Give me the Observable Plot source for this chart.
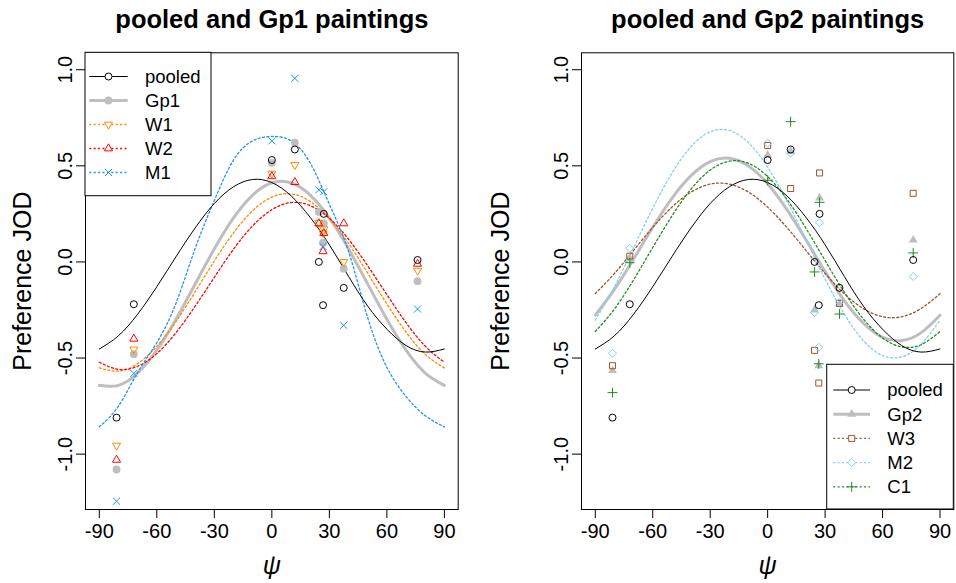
<!DOCTYPE html>
<html><head><meta charset="utf-8">
<script src="https://cdn.jsdelivr.net/npm/d3@7"></script>
<script src="https://cdn.jsdelivr.net/npm/@observablehq/plot@0.6"></script>
<style>
html,body{margin:0;padding:0;background:#fff;}
#wrap{display:flex;width:956px;height:583px;overflow:hidden;}
svg{display:block;}
</style></head><body><div id="wrap"></div>
<script>
// ---- data ----
const psi = [-81, -72, 0, 12, 24.5, 26.7, 27.1, 37.5, 76];
const pooled = [-0.81, -0.22, 0.53, 0.585, 0.0, -0.225, 0.25, -0.135, 0.01];
const gp1 = [-1.08, -0.48, 0.515, 0.62, 0.26, 0.10, 0.20, -0.035, -0.10];
const w1 = [-0.955, -0.455, 0.46, 0.505, 0.205, 0.15, 0.17, 0.0, -0.045];
const w2 = [-1.03, -0.40, 0.445, 0.415, 0.20, 0.055, 0.15, 0.20, -0.01];
const m1 = [-1.245, -0.58, 0.63, 0.955, 0.375, 0.08, 0.365, -0.33, -0.245];
const gp2 = [-0.565, 0.02, 0.555, 0.575, -0.25, -0.54, 0.333, -0.22, 0.114];
const w3 = [-0.54, 0.03, 0.606, 0.382, -0.46, -0.63, 0.463, -0.216, 0.357];
const m2 = [-0.475, 0.071, 0.618, 0.566, -0.263, -0.444, 0.204, -0.21, -0.076];
const c1 = [-0.68, -0.004, 0.425, 0.73, -0.052, -0.53, 0.31, -0.271, 0.047];

// fitted curves, read at every 10 degrees
const curveX = [-90,-80,-70,-60,-50,-40,-30,-20,-10,0,10,20,30,40,50,60,70,80,90];
const pooledFit = [-0.453,-0.384,-0.272,-0.129,0.027,0.177,0.304,0.391,0.429,0.413,0.344,0.232,0.089,-0.075,-0.23,-0.35,-0.435,-0.469,-0.453];
const gp1Fit = [-0.642,-0.642,-0.578,-0.459,-0.298,-0.115,0.068,0.229,0.348,0.412,0.412,0.348,0.229,0.068,-0.115,-0.298,-0.459,-0.578,-0.642];
const w1Fit = [-0.551,-0.568,-0.529,-0.439,-0.310,-0.155,0.005,0.151,0.267,0.337,0.354,0.315,0.225,0.096,-0.059,-0.219,-0.365,-0.481,-0.551];
const w2Fit = [-0.522,-0.559,-0.543,-0.477,-0.368,-0.230,-0.080,0.066,0.188,0.272,0.309,0.293,0.227,0.118,-0.020,-0.170,-0.316,-0.438,-0.522];
const m1Fit = [-0.858,-0.75,-0.575,-0.42,-0.215,0.07,0.32,0.53,0.63,0.653,0.63,0.515,0.30,0.055,-0.29,-0.548,-0.70,-0.80,-0.858];
const gp2Fit = [-0.277,-0.143,0.015,0.180,0.331,0.449,0.522,0.539,0.499,0.407,0.273,0.115,-0.050,-0.201,-0.319,-0.392,-0.409,-0.369,-0.277];
const w3Fit = [-0.165,-0.060,0.060,0.180,0.285,0.363,0.405,0.405,0.363,0.285,0.180,0.060,-0.060,-0.165,-0.243,-0.285,-0.285,-0.243,-0.165];
const m2Fit = [-0.303,-0.128,0.074,0.279,0.461,0.600,0.677,0.684,0.620,0.493,0.318,0.116,-0.089,-0.271,-0.410,-0.487,-0.494,-0.430,-0.303];
const c1Fit = [-0.362,-0.245,-0.093,0.075,0.239,0.379,0.478,0.524,0.513,0.444,0.327,0.175,0.007,-0.157,-0.297,-0.396,-0.442,-0.431,-0.362];

const xTicks = [-90,-60,-30,0,30,60,90];
const yTicks = [-1,-0.5,0,0.5,1];
const titles = ["pooled and Gp1 paintings", "pooled and Gp2 paintings"];
const yLabel = "Preference JOD";
const xLabel = "\u03C8";

// ---- styles ----
const FONT = "'Liberation Sans', Arial, Helvetica, sans-serif";
const GRAY = "#bebebe";
const sqrt3 = Math.sqrt(3);
const triangleDown = {draw(ctx, size){ const y = Math.sqrt(size/(sqrt3*3)); ctx.moveTo(0, 2*y); ctx.lineTo(-sqrt3*y, -y); ctx.lineTo(sqrt3*y, -y); ctx.closePath(); }};
const SYM = {
  circle: {type: d3.symbolCircle, r: 3.5, filled:false},
  dot: {type: d3.symbolCircle, r: 3.9, filled:true},
  tri: {type: d3.symbolTriangle, r: 3.0, filled:false},
  triDown: {type: triangleDown, r: 3.0, filled:false},
  triFill: {type: d3.symbolTriangle, r: 3.3, filled:true},
  times: {type: d3.symbolTimes, r: 3.3, filled:false},
  square: {type: d3.symbolSquare, r: 3.4, filled:false},
  diamond: {type: d3.symbolDiamond2, r: 3.6, filled:false},
  plus: {type: d3.symbolPlus, r: 3.3, filled:false}
};

function series(name, vals, fit, color, sym, lineStyle){ return {name, vals, fit, color, sym, lineStyle}; }
const LINE = {
  solid: {strokeWidth: 1},
  thick: {strokeWidth: 3},
  dotted: {strokeWidth: 1.3, strokeDasharray: "2,2.4"}
};

const panels = [
  {
    title: titles[0], ml: 85, mr: 20.3,
    series: [
      series("pooled", pooled, pooledFit, "#000000", "circle", "solid"),
      series("Gp1", gp1, gp1Fit, GRAY, "dot", "thick"),
      series("W1", w1, w1Fit, "#ff8c00", "triDown", "dotted"),
      series("W2", w2, w2Fit, "#ff0000", "tri", "dotted"),
      series("M1", m1, m1Fit, "#1e90ff", "times", "dotted")
    ],
    legend: {x0: 85, y0: 52.3, x1: 211, y1: 195.7, rowY: 76.5, rowStep: 24, lineX0: 89.3, lineX1: 127.7, symX: 108.5, textX: 145}
  },
  {
    title: titles[1], ml: 103, mr: 2.7,
    series: [
      series("pooled", pooled, pooledFit, "#000000", "circle", "solid"),
      series("Gp2", gp2, gp2Fit, GRAY, "triFill", "thick"),
      series("W3", w3, w3Fit, "#a0522d", "square", "dotted"),
      series("M2", m2, m2Fit, "#87ceeb", "diamond", "dotted"),
      series("C1", c1, c1Fit, "#228b22", "plus", "dotted")
    ],
    legend: {x0: 348.7, y0: 364.3, x1: 475.3, y1: 509, rowY: 390, rowStep: 24.2, lineX0: 355.3, lineX1: 392, symX: 373.7, textX: 409.3}
  }
];

function makePanel(p){
  const W = 478, H = 583, mt = 52.3, mb = 74;
  const marks = [];
  const order = [1,2,3,4,0];
  for (const k of order){
    const s = p.series[k];
    const pts = curveX.map((x,i)=>({x, y: s.fit[i]}));
    marks.push(Plot.line(pts, {x:"x", y:"y", curve:"natural", stroke: s.color, ...LINE[s.lineStyle]}));
  }
  for (const k of order){
    const s = p.series[k];
    const sy = SYM[s.sym];
    const pts = psi.map((x,i)=>({x, y: s.vals[i]}));
    marks.push(Plot.dot(pts, {x:"x", y:"y", symbol: sy.type, r: sy.r,
      fill: sy.filled ? s.color : "none", stroke: sy.filled ? "none" : s.color, strokeWidth: 1}));
  }
  marks.push(Plot.frame({stroke:"#000", strokeWidth:1}));
  marks.push(Plot.axisX(xTicks, {tickSize: 9, tickPadding: 5, fontSize: 20, label: null, tickFormat: d => String(d), stroke:"#000", fill:"#000"}));
  marks.push(Plot.axisY(yTicks, {tickSize: 9, label: null, tickFormat: () => "", stroke:"#000"}));
  marks.push(Plot.text(yTicks, {y: d=>d, text: d=>d.toFixed(1), frameAnchor:"left", dx:-14, rotate:-90, lineAnchor:"bottom", textAnchor:"middle", fontSize:20, fill:"#000"}));
  marks.push(Plot.text([yLabel], {text: d=>d, frameAnchor:"left", dx: 22 - p.ml, rotate:-90, lineAnchor:"middle", textAnchor:"middle", fontSize:25, fill:"#000"}));
  marks.push(Plot.text([xLabel], {text: d=>d, frameAnchor:"bottom", dy: 56, lineAnchor:"middle", fontSize:25, fontStyle:"italic", fill:"#000"}));
  marks.push(Plot.text([p.title], {text: d=>d, frameAnchor:"top", dy: -33, lineAnchor:"middle", fontSize:25.5, fontWeight:"bold", fill:"#000"}));

  const svg = Plot.plot({
    width: W, height: H, marginLeft: p.ml, marginRight: p.mr, marginTop: mt, marginBottom: mb,
    x: {domain: [-97.2, 97.2], label: null}, y: {domain: [-1.288, 1.088], label: null},
    style: {fontFamily: FONT, background: "#fff", color: "#000", overflow: "visible"},
    marks
  });

  const L = p.legend;
  const g = d3.select(svg).append("g").attr("font-family", FONT).attr("font-size", 18.5).attr("text-anchor", "start");
  g.append("rect").attr("x", L.x0).attr("y", L.y0).attr("width", L.x1 - L.x0).attr("height", L.y1 - L.y0)
    .attr("fill", "#fff").attr("stroke", "#000").attr("stroke-width", 1);
  p.series.forEach((s, i) => {
    const y = L.rowY + i * L.rowStep;
    const ls = LINE[s.lineStyle];
    g.append("line").attr("x1", L.lineX0).attr("x2", L.lineX1).attr("y1", y).attr("y2", y)
      .attr("stroke", s.color).attr("stroke-width", ls.strokeWidth).attr("stroke-dasharray", ls.strokeDasharray || null);
    const sy = SYM[s.sym];
    g.append("path").attr("d", d3.symbol(sy.type, Math.PI * sy.r * sy.r)())
      .attr("transform", `translate(${L.symX},${y})`)
      .attr("fill", sy.filled ? s.color : "#fff").attr("stroke", sy.filled ? "none" : s.color).attr("stroke-width", 1);
    g.append("text").attr("x", L.textX).attr("y", y).attr("dy", "0.35em").attr("text-anchor", "start").attr("fill", "#000").text(s.name);
  });
  return svg;
}

const wrap = document.getElementById("wrap");
panels.forEach(p => wrap.appendChild(makePanel(p)));
</script></body></html>
